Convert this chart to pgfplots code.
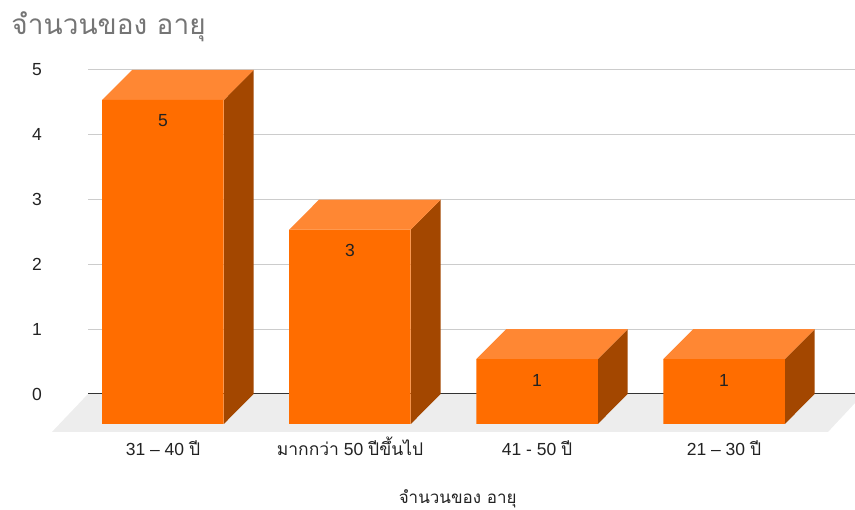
\documentclass[border=0pt]{standalone}
\usepackage{fontspec}
\usepackage{pgfplots}
\usepackage{pgfplotstable}
\pgfplotsset{compat=1.18}
\setmainfont{Liberation Sans}
\newfontfamily\thaifont[Script=Thai]{Loma}
\definecolor{barfront}{HTML}{FF6D00}
\definecolor{bartop}{HTML}{FF8733}
\definecolor{barside}{HTML}{A34700}
\definecolor{floorgray}{HTML}{EDEDED}
\definecolor{gridgray}{HTML}{CCCCCC}
\definecolor{titlegray}{HTML}{757575}
\definecolor{labelgray}{HTML}{222222}
\pgfplotstableread{
idx value
0 5
1 3
2 1
3 1
}\agedata
\begin{document}
\begin{tikzpicture}[x=1pt,y=1pt]
\path[use as bounding box] (0,0) rectangle (855,510);
\begin{axis}[
    at={(88pt,116pt)},
    anchor=south west,
    scale only axis,
    width=767pt,
    height=324pt,
    xmin=-0.401, xmax=3.7005,
    ymin=0, ymax=5,
    clip=false,
    axis line style={draw=none},
    tick style={draw=none},
    xtick={0,1,2,3},
    xticklabels={
        {31 – 40 {\thaifont ปี}},
        {{\thaifont มากกว่า} 50 {\thaifont ปีขึ้นไป}},
        {41 - 50 {\thaifont ปี}},
        {21 – 30 {\thaifont ปี}}},
    ytick={0,1,2,3,4,5},
    ymajorgrids,
    grid style={gridgray, line width=1pt},
    /pgf/number format/assume math mode=true,
    tick label style={font=\fontsize{17.5}{20}\selectfont, text=labelgray},
    xticklabel style={anchor=base, yshift=-62pt},
    yticklabel style={anchor=center, xshift=-51pt},
    title={\thaifont จำนวนของ อายุ},
    title style={at={(rel axis cs:-0.1,1.115)}, anchor=west, inner sep=0pt,
        font=\fontsize{28}{32}\selectfont, text=titlegray},
    xlabel={\thaifont จำนวนของ อายุ},
    xlabel style={at={(rel axis cs:0.482,-0.325)}, anchor=center, inner sep=0pt,
        font=\fontsize{17}{20}\selectfont, text=labelgray},
]
% floor, the right end stops at the page edge
\addplot[fill=floorgray, draw=none, forget plot] coordinates {
    (-0.401,0) (3.7005,0) (3.7005,-0.14) (3.556,-0.586) (-0.594,-0.586)} -- cycle;
\addplot[draw=black!80, line width=1pt, forget plot] coordinates {(-0.401,0) (3.7005,0)};
% side faces
\addplot[fill=barside, draw=none, forget plot] coordinates {
    (0.325,-0.463) (0.485,0) (0.485,5) (0.325,4.537)} -- cycle;
\addplot[fill=barside, draw=none, forget plot] coordinates {
    (1.325,-0.463) (1.485,0) (1.485,3) (1.325,2.537)} -- cycle;
\addplot[fill=barside, draw=none, forget plot] coordinates {
    (2.325,-0.463) (2.485,0) (2.485,1) (2.325,0.537)} -- cycle;
\addplot[fill=barside, draw=none, forget plot] coordinates {
    (3.325,-0.463) (3.485,0) (3.485,1) (3.325,0.537)} -- cycle;
% top faces
\addplot[fill=bartop, draw=none, forget plot] coordinates {
    (-0.325,4.537) (-0.165,5) (0.485,5) (0.325,4.537)} -- cycle;
\addplot[fill=bartop, draw=none, forget plot] coordinates {
    (0.675,2.537) (0.835,3) (1.485,3) (1.325,2.537)} -- cycle;
\addplot[fill=bartop, draw=none, forget plot] coordinates {
    (1.675,0.537) (1.835,1) (2.485,1) (2.325,0.537)} -- cycle;
\addplot[fill=bartop, draw=none, forget plot] coordinates {
    (2.675,0.537) (2.835,1) (3.485,1) (3.325,0.537)} -- cycle;
% front faces, moved down to the front edge of the floor
\addplot[ybar, bar width=121.5pt, bar shift=0pt, fill=barfront, draw=none, yshift=-30pt,
    nodes near coords,
    every node near coord/.append style={anchor=center, yshift=-21pt,
        font=\fontsize{17.5}{20}\selectfont, text=labelgray,
        /pgf/number format/assume math mode=true}]
    table[x=idx, y=value] {\agedata};
\end{axis}
\end{tikzpicture}
\end{document}
